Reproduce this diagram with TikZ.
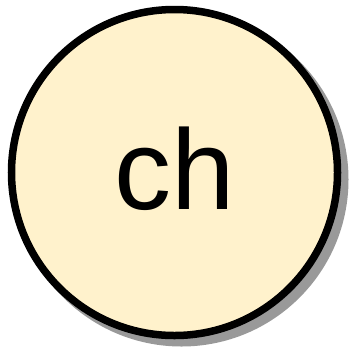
\documentclass[tikz,border=0pt]{standalone}
\usepackage{fontspec}
\setmainfont{Liberation Sans}
\definecolor{nodefill}{HTML}{FFF2CC}
\definecolor{shadowgray}{HTML}{999999}
\begin{document}
\begin{tikzpicture}[x=1pt,y=-1pt,
  circnode/.style={circle,minimum size=326pt,inner sep=0pt,fill=nodefill,draw=black,line width=7.5pt},
  shadownode/.style={circle,minimum size=334pt,inner sep=0pt,fill=shadowgray},
  labeltext/.style={inner sep=0pt,font=\fontsize{114}{114}\selectfont}]
\useasboundingbox (0,0) rectangle (352,351);
\node[shadownode] (sh) at (181.5,179.5) {};
\node[circnode] (c) at (174.5,172.5) {};
\node[labeltext] (t) at (174.5,169) {ch};
\end{tikzpicture}
\end{document}
